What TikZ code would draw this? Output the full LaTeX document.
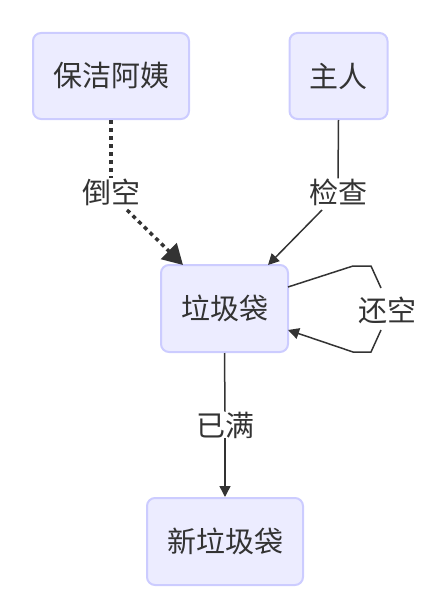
\documentclass[tikz,border=0pt]{standalone}
\usepackage{fontspec}
\setmainfont{Noto Sans CJK SC}
\usetikzlibrary{arrows.meta}
\definecolor{boxfill}{HTML}{ECECFF}
\definecolor{boxdraw}{HTML}{CCCCFF}
\definecolor{ink}{HTML}{333333}
\begin{document}
\begin{tikzpicture}[x=1pt,y=1pt,
  box/.style={draw=boxdraw,fill=boxfill,line width=2pt,rounded corners=8pt,
    text=ink,font=\fontsize{29}{34}\selectfont,inner sep=0pt,anchor=center},
  lbl/.style={text=ink,font=\fontsize{29}{34}\selectfont,inner sep=0pt},
  thinedge/.style={draw=ink,line width=1.5pt},
  thinarrow/.style={thinedge,-{Triangle[length=11pt,width=11pt]}},
  dotedge/.style={draw=ink,line width=3.5pt,dash pattern=on 4pt off 4pt},
  dotarrow/.style={dotedge,-{Triangle[length=20pt,width=22pt]}}]
\useasboundingbox (0,0) rectangle (441,-610);
\node[box,minimum width=156pt,minimum height=86pt] (a) at (111,-76) {保洁阿姨};
\node[box,minimum width=98pt,minimum height=86pt] (b) at (338.5,-76) {主人};
\node[box,minimum width=127pt,minimum height=87pt] (c) at (224.5,-308.5) {垃圾袋};
\node[box,minimum width=156pt,minimum height=87pt] (d) at (225,-541.5) {新垃圾袋};
\node[lbl] (l1) at (111,-192) {倒空};
\node[lbl] (l2) at (338,-192) {检查};
\node[lbl] (l3) at (387,-310) {还空};
\node[lbl] (l4) at (225,-425) {已满};
\coordinate (l1out) at (127,-210);
\coordinate (l2out) at (322,-210);
\coordinate (ctipa) at (183,-265);
\coordinate (ctipb) at (268,-265);
% edges
\draw[dotedge] (a.south) -- (l1.north);
\draw[dotarrow] (l1out) -- (ctipa);
\draw[thinedge] (b.south) -- (l2.north);
\draw[thinarrow] (l2out) -- (ctipb);
\draw[thinedge] (c.south) -- (l4.north);
\draw[thinarrow] (l4.south) -- (d.north);
\coordinate (s1) at (288,-287);
\coordinate (s2) at (288,-330);
\draw[thinedge] (s1) -- (353,-266) -- (371,-266) -- (381,-288);
\draw[thinarrow] (381,-330) -- (371,-352) -- (353,-352) -- (s2);
\end{tikzpicture}
\end{document}
